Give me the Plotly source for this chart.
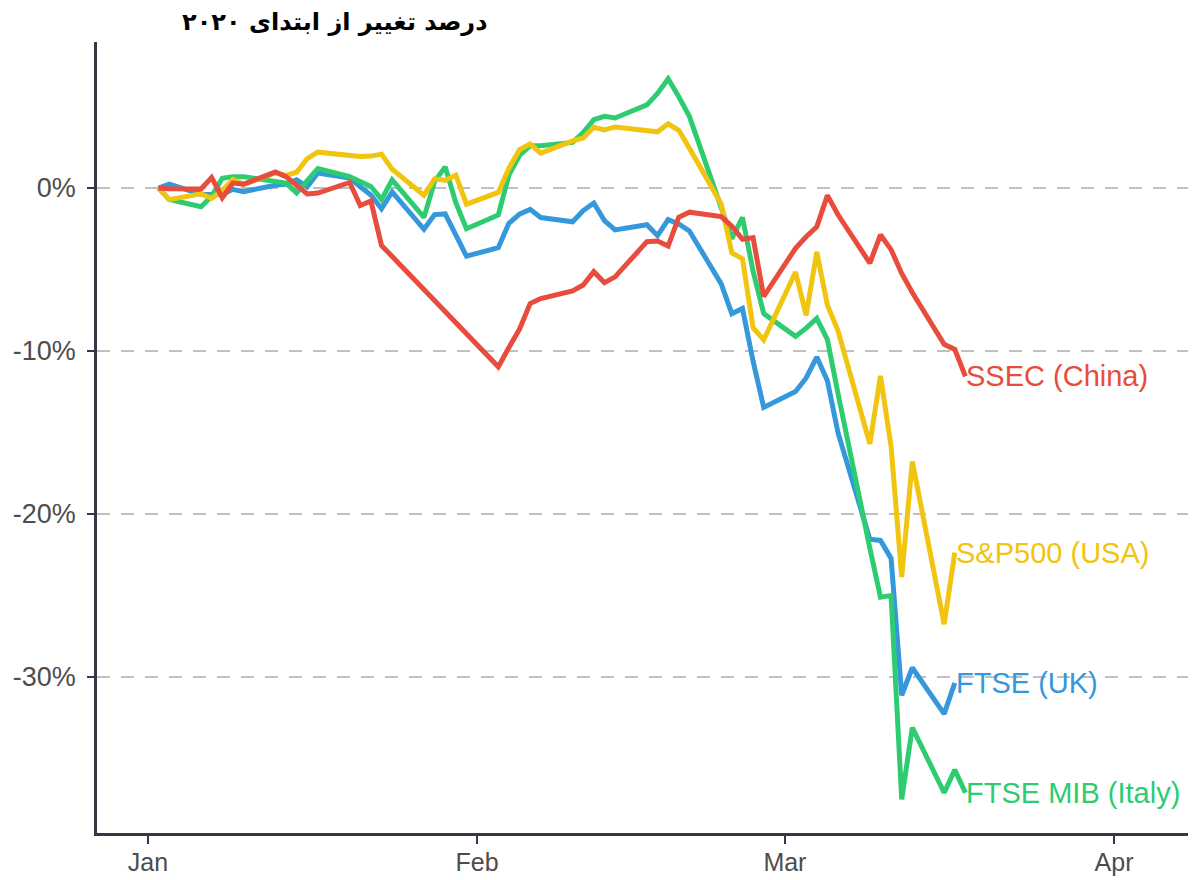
import plotly.graph_objects as go

# ---------------- data (percent change since the start of 2020) ----------------
uk_dates = [
    "2020-01-02", "2020-01-03", "2020-01-06", "2020-01-07", "2020-01-08", "2020-01-09", "2020-01-10",
    "2020-01-13", "2020-01-14", "2020-01-15", "2020-01-16", "2020-01-17", "2020-01-20", "2020-01-21",
    "2020-01-22", "2020-01-23", "2020-01-24", "2020-01-27", "2020-01-28", "2020-01-29", "2020-01-30",
    "2020-01-31",
    "2020-02-03", "2020-02-04", "2020-02-05", "2020-02-06", "2020-02-07", "2020-02-10", "2020-02-11",
    "2020-02-12", "2020-02-13", "2020-02-14", "2020-02-17", "2020-02-18", "2020-02-19", "2020-02-20",
    "2020-02-21", "2020-02-24", "2020-02-25", "2020-02-26", "2020-02-27", "2020-02-28",
    "2020-03-02", "2020-03-03", "2020-03-04", "2020-03-05", "2020-03-06", "2020-03-09", "2020-03-10",
    "2020-03-11", "2020-03-12", "2020-03-13", "2020-03-16", "2020-03-17",
]
uk_values = [
    0.00, 0.24, -0.38, -0.40, -0.39, -0.08, -0.22, 0.17, 0.24, 0.51, 0.07, 0.92, 0.62, 0.08,
    -0.43, -1.27, -0.24, -2.53, -1.63, -1.59, -2.92, -4.18,
    -3.66, -2.16, -1.60, -1.31, -1.81, -2.07, -1.38, -0.92, -2.00, -2.57, -2.25, -2.92, -1.94, -2.20,
    -2.63, -5.88, -7.71, -7.39, -10.62, -13.46,
    -12.48, -11.65, -10.37, -11.82, -15.01, -21.55, -21.62, -22.72, -31.12, -29.43, -32.26, -30.37,
]

it_dates = uk_dates + ["2020-03-18"]
it_values = [
    0.0, -0.7, -1.15, -0.5, 0.6, 0.7, 0.7, 0.4, 0.3, -0.3, 0.5, 1.2, 0.7, 0.4,
    0.1, -0.7, 0.5, -1.8, 0.4, 1.3, -0.9, -2.5,
    -1.65, 0.8, 2.0, 2.6, 2.6, 2.8, 3.4, 4.2, 4.4, 4.3, 5.1, 5.8, 6.7, 5.6,
    4.4, -1.2, -3.1, -1.8, -5.1, -7.7,
    -9.1, -8.6, -8.0, -9.3, -12.6, -22.1, -25.1, -25.0, -37.5, -33.1, -37.1, -35.7, -37.1,
]

us_dates = [
    "2020-01-02", "2020-01-03", "2020-01-06", "2020-01-07", "2020-01-08", "2020-01-09", "2020-01-10",
    "2020-01-13", "2020-01-14", "2020-01-15", "2020-01-16", "2020-01-17", "2020-01-21", "2020-01-22",
    "2020-01-23", "2020-01-24", "2020-01-27", "2020-01-28", "2020-01-29", "2020-01-30", "2020-01-31",
    "2020-02-03", "2020-02-04", "2020-02-05", "2020-02-06", "2020-02-07", "2020-02-10", "2020-02-11",
    "2020-02-12", "2020-02-13", "2020-02-14", "2020-02-18", "2020-02-19", "2020-02-20", "2020-02-21",
    "2020-02-24", "2020-02-25", "2020-02-26", "2020-02-27", "2020-02-28",
    "2020-03-02", "2020-03-03", "2020-03-04", "2020-03-05", "2020-03-06", "2020-03-09", "2020-03-10",
    "2020-03-11", "2020-03-12", "2020-03-13", "2020-03-16", "2020-03-17",
]
us_values = [
    0.00, -0.71, -0.36, -0.63, -0.15, 0.52, 0.23, 0.93, 0.78, 0.97, 1.81, 2.20, 1.93, 1.96,
    2.08, 1.15, -0.44, 0.56, 0.48, 0.79, -0.99,
    -0.27, 1.22, 2.36, 2.70, 2.14, 2.89, 3.07, 3.73, 3.56, 3.75, 3.45, 3.94, 3.54, 2.45,
    -0.98, -3.98, -4.34, -8.57, -9.32,
    -5.15, -7.81, -3.92, -7.18, -8.76, -15.69, -11.53, -15.85, -23.86, -16.78, -26.76, -22.37,
]

cn_dates = [
    "2020-01-02", "2020-01-03", "2020-01-06", "2020-01-07", "2020-01-08", "2020-01-09", "2020-01-10",
    "2020-01-13", "2020-01-14", "2020-01-15", "2020-01-16", "2020-01-17", "2020-01-20", "2020-01-21",
    "2020-01-22", "2020-01-23",
    "2020-02-03", "2020-02-04", "2020-02-05", "2020-02-06", "2020-02-07", "2020-02-10", "2020-02-11",
    "2020-02-12", "2020-02-13", "2020-02-14", "2020-02-17", "2020-02-18", "2020-02-19", "2020-02-20",
    "2020-02-21", "2020-02-24", "2020-02-25", "2020-02-26", "2020-02-27", "2020-02-28",
    "2020-03-02", "2020-03-03", "2020-03-04", "2020-03-05", "2020-03-06", "2020-03-09", "2020-03-10",
    "2020-03-11", "2020-03-12", "2020-03-13", "2020-03-16", "2020-03-17", "2020-03-18",
]
cn_values = [
    0.00, -0.05, -0.06, 0.64, -0.59, 0.31, 0.23, 0.98, 0.70, 0.16, -0.36, -0.31, 0.34, -1.07,
    -0.79, -3.52,
    -10.97, -9.78, -8.66, -7.09, -6.78, -6.31, -5.95, -5.13, -5.81, -5.45, -3.29, -3.25, -3.56, -1.79,
    -1.48, -1.75, -2.34, -3.15, -3.04, -6.65,
    -3.70, -2.99, -2.38, -0.45, -1.64, -4.60, -2.87, -3.78, -5.24, -6.41, -9.59, -9.90, -11.55,
]

series_names = ["FTSE (UK)", "FTSE MIB (Italy)", "S&P500 (USA)", "SSEC (China)"]
series_colors = ["#3498DB", "#2ECC71", "#F1C40F", "#E74C3C"]

y_tick_vals = [0, -10, -20, -30]
y_tick_text = ["0%", "-10%", "-20%", "-30%"]
x_tick_vals = ["2020-01-01", "2020-02-01", "2020-03-01", "2020-04-01"]
x_tick_text = ["Jan", "Feb", "Mar", "Apr"]

title_text = "درصد تغییر از ابتدای ۲۰۲۰"

# ---------------- figure ----------------
fig = go.Figure()
all_series = [(uk_dates, uk_values), (it_dates, it_values), (us_dates, us_values), (cn_dates, cn_values)]
for (xs, ys), name, color in zip(all_series, series_names, series_colors):
    fig.add_trace(go.Scatter(x=xs, y=ys, mode="lines", name=name,
                             line=dict(color=color, width=5), showlegend=False))
    fig.add_annotation(x=xs[-1], y=ys[-1], text=name, showarrow=False,
                       xanchor="left", yanchor="middle", xshift=-1,
                       font=dict(size=29, color=color, family="Liberation Sans"))

fig.add_annotation(x=0.2157, y=1.0253, xref="paper", yref="paper", text="<b>" + title_text + "</b>",
                   showarrow=False, xanchor="center", yanchor="middle",
                   font=dict(size=24, color="#000000", family="DejaVu Sans"))

axis_color = "#333a45"
# the page body adds an 8px offset, so the figure is sized to end exactly at the window edges
fig.update_layout(
    width=1188, height=872,
    margin=dict(l=89, r=0, t=34, b=47),
    paper_bgcolor="white", plot_bgcolor="white",
    font=dict(family="Liberation Sans", color="#4d4d4d"),
    xaxis=dict(
        type="date", automargin=False,
        range=["2019-12-27 04:48", "2020-04-08 17:20"],
        tickvals=x_tick_vals, ticktext=x_tick_text,
        showgrid=False, zeroline=False,
        showline=True, linecolor=axis_color, linewidth=2.5,
        ticks="outside", ticklen=8, tickwidth=2, tickcolor=axis_color,
        ticklabelstandoff=-3,
        tickfont=dict(size=25, color="#4d4d4d"),
    ),
    yaxis=dict(
        automargin=False,
        range=[-39.57, 8.96],
        tickvals=y_tick_vals, ticktext=y_tick_text,
        showgrid=True, gridcolor="#bfbfbf", gridwidth=2, griddash="13px,11px",
        zeroline=False,
        showline=True, linecolor=axis_color, linewidth=2.5,
        ticks="outside", ticklen=7, tickwidth=2, tickcolor=axis_color,
        ticklabelstandoff=6,
        tickfont=dict(size=27, color="#4d4d4d"),
    ),
)

fig.write_html("out.html")
